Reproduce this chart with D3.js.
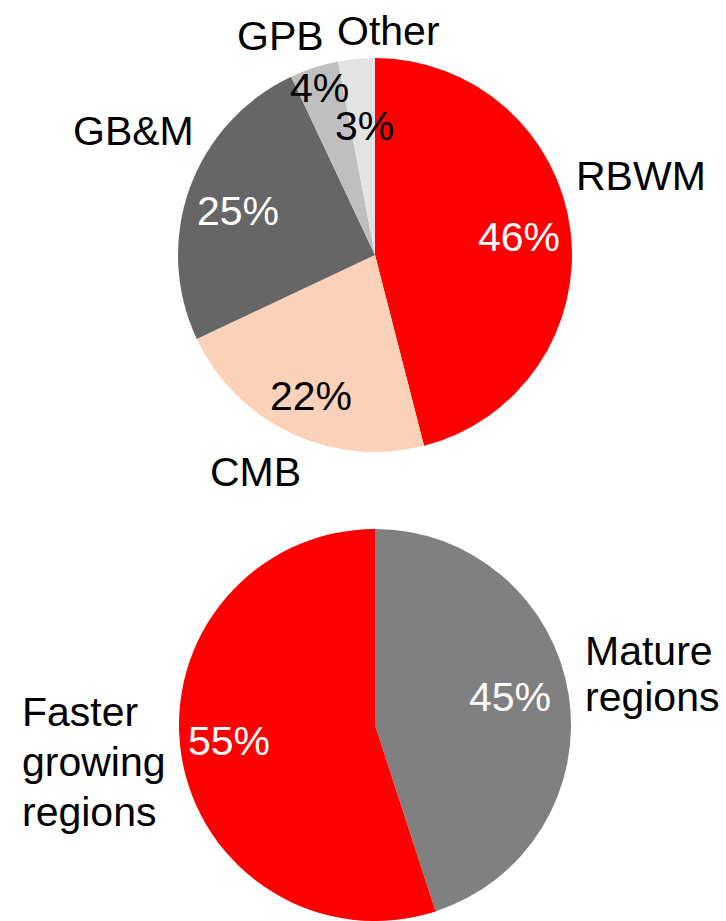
<!DOCTYPE html>
<html>
<head>
<meta charset="utf-8">
<script src="https://cdn.jsdelivr.net/npm/d3@7"></script>
<style>
  html, body { margin: 0; padding: 0; background: #ffffff; }
  svg { display: block; }
  text { font-family: "Liberation Sans", Arial, sans-serif; }
</style>
</head>
<body>
<svg id="chart" width="726" height="921"></svg>
<script>
// ---- Data ----
const businessCategories = ["RBWM", "CMB", "GB&M", "GPB", "Other"];
const businessValues = [46, 22, 25, 4, 3];
const regionCategories = ["Mature regions", "Faster growing regions"];
const regionValues = [45, 55];

// ---- Styles ----
const businessColors = ["#ff0000", "#fcd1ba", "#666666", "#bfbfbf", "#e3e3e3"];
const businessPctColors = ["#ffffff", "#000000", "#ffffff", "#000000", "#000000"];
const regionColors = ["#808080", "#ff0000"];
const regionPctColors = ["#ffffff", "#ffffff"];

// ---- Layout ----
const FS = 41;
const topPie = { cx: 375, cy: 255, r: 197 };
const botPie = { cx: 375, cy: 725, r: 196 };
// label placements (left x, baseline y)
const businessPctPos = [[478, 251], [270, 410], [197, 225], [290, 102], [335, 140]];
const businessNamePos = [[576, 190], [210, 486], [73, 145], [237, 50], [337, 45]];
const regionPctPos = [[469, 711], [188, 755]];
const regionNameLines = [["Mature", "regions"], ["Faster", "growing", "regions"]];
const regionNamePos = [[585, [665, 711]], [22, [726, 776, 826]]];

const svg = d3.select("#chart");
const pie = d3.pie().sort(null).value(d => d);

function drawPie(cfg, values, colors) {
  const arc = d3.arc().innerRadius(0).outerRadius(cfg.r);
  const g = svg.append("g").attr("transform", `translate(${cfg.cx},${cfg.cy})`);
  g.selectAll("path")
    .data(pie(values))
    .join("path")
    .attr("d", arc)
    .attr("fill", (d, i) => colors[i]);
}

drawPie(topPie, businessValues, businessColors);
drawPie(botPie, regionValues, regionColors);

// Percent labels
svg.append("g").selectAll("text")
  .data(businessValues)
  .join("text")
  .attr("x", (d, i) => businessPctPos[i][0])
  .attr("y", (d, i) => businessPctPos[i][1])
  .attr("font-size", FS)
  .attr("fill", (d, i) => businessPctColors[i])
  .text(d => d + "%");

svg.append("g").selectAll("text")
  .data(businessCategories)
  .join("text")
  .attr("x", (d, i) => businessNamePos[i][0])
  .attr("y", (d, i) => businessNamePos[i][1])
  .attr("font-size", FS)
  .attr("fill", "#000")
  .text(d => d);

svg.append("g").selectAll("text")
  .data(regionValues)
  .join("text")
  .attr("x", (d, i) => regionPctPos[i][0])
  .attr("y", (d, i) => regionPctPos[i][1])
  .attr("font-size", FS)
  .attr("fill", (d, i) => regionPctColors[i])
  .text(d => d + "%");

regionCategories.forEach((name, i) => {
  const t = svg.append("text")
    .attr("font-size", FS)
    .attr("fill", "#000")
    .attr("aria-label", name);
  regionNameLines[i].forEach((line, j) => {
    t.append("tspan")
      .attr("x", regionNamePos[i][0])
      .attr("y", regionNamePos[i][1][j])
      .text(line);
  });
});
</script>
</body>
</html>
